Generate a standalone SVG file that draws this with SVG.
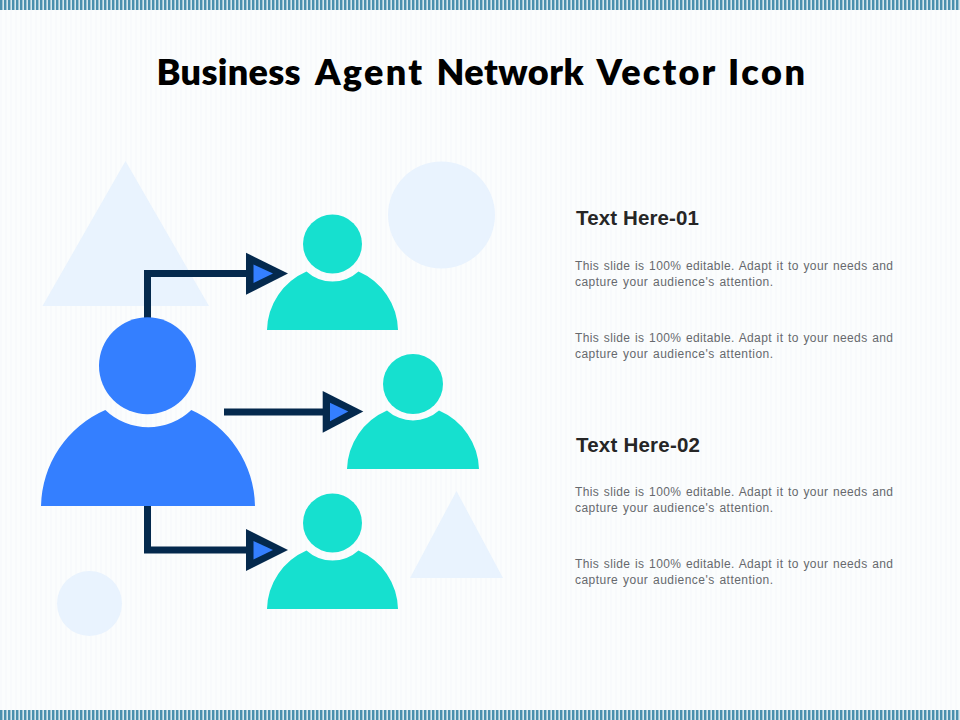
<svg xmlns="http://www.w3.org/2000/svg" width="960" height="720" viewBox="0 0 960 720">
<style>
text{font-family:"Liberation Sans",Arial,sans-serif}
.title{font-family:Lato,"Liberation Sans",sans-serif;font-size:36px;font-weight:800;fill:#000}
.head{font-size:20.500px;font-weight:700;fill:#262626}
.body{font-size:12px;fill:#66696d;word-spacing:1px}
.deco{fill:#e9f3fe}
.teal{fill:#16e0cf}
.blue{fill:#347fff}
.line{fill:none;stroke:#04294d;stroke-width:7}
.ah{fill:#04294d}
</style>
<defs>
<pattern id="bg" width="5" height="10" patternUnits="userSpaceOnUse"><rect width="5" height="10" fill="#fbfdfd"/><rect width="2" height="10" fill="#f8fafc"/></pattern>
<pattern id="band" width="4" height="10" patternUnits="userSpaceOnUse"><rect width="4" height="10" fill="#d6e7ee"/><rect width="2.400" height="10" fill="#4a8fae"/></pattern>
<g id="person"><circle cx="0" cy="-86" r="29.5"/><path d="M-65.5 0A65.5 65.5 0 0 1-26 -58.500A38.500 38.500 0 0 0 26 -58.500A65.500 65.500 0 0 1 65.500 0Z"/></g>
</defs>
<rect width="960" height="720" fill="url(#bg)"/>
<rect width="960" height="10" fill="url(#band)"/>
<rect y="710" width="960" height="10" fill="url(#band)"/>
<text class="title" y="84.500"><tspan x="156.500" textLength="144">Business</tspan> <tspan x="315" textLength="107">Agent</tspan> <tspan x="436.500" textLength="147">Network</tspan> <tspan x="596.500" textLength="118">Vector</tspan> <tspan x="728" textLength="77">Icon</tspan></text>
<g id="decor">
<path class="deco" d="M125.500 161L209 306H42.500Z"/>
<circle class="deco" cx="441.500" cy="215" r="53.500"/>
<path class="deco" d="M456.500 491L503 578H410Z"/>
<circle class="deco" cx="89.500" cy="603.500" r="32.500"/>
</g>
<g id="connectors">
<path class="line" d="M147.500 320V273.500H250"/>
<path class="ah" d="M246 252.700V294.700L288 273.500Z"/><path class="blue" d="M253.500 264.500V283L273 273.500Z"/>
<path class="line" d="M224 412H326"/>
<path class="ah" d="M322.700 391V432.700L363.300 411.500Z"/><path class="blue" d="M330 402.700V421.300L348.300 411.500Z"/>
<path class="line" d="M147.500 504V550H250"/>
<path class="ah" d="M246 529V571L288 550Z"/><path class="blue" d="M253.500 541V559.500L273 550Z"/>
</g>
<g id="agent-main" class="blue"><circle cx="147.500" cy="365.700" r="48.500"/><path d="M41 506A107 107 0 0 1 105.300 410A62 62 0 0 0 191.300 410A107 107 0 0 1 255 506Z"/></g>
<g id="agent-1" class="teal"><use href="#person" x="332.500" y="330"/></g>
<g id="agent-2" class="teal"><circle cx="413" cy="384" r="30"/><path d="M347 469A66 66 0 0 1 387 410.500A39 39 0 0 0 439 410.500A66 66 0 0 1 479 469Z"/></g>
<g id="agent-3" class="teal"><use href="#person" x="332.500" y="609"/></g>
<g id="text-1">
<text class="head" x="576" y="225" textLength="123">Text Here-01</text>
<text class="body" x="575" y="270" textLength="318">This slide is 100% editable. Adapt it to your needs and</text>
<text class="body" x="575" y="286" textLength="198">capture your audience's attention.</text>
<text class="body" x="575" y="342" textLength="318">This slide is 100% editable. Adapt it to your needs and</text>
<text class="body" x="575" y="358" textLength="198">capture your audience's attention.</text>
</g>
<g id="text-2">
<text class="head" x="576" y="452" textLength="124">Text Here-02</text>
<text class="body" x="575" y="496" textLength="318">This slide is 100% editable. Adapt it to your needs and</text>
<text class="body" x="575" y="512" textLength="198">capture your audience's attention.</text>
<text class="body" x="575" y="568" textLength="318">This slide is 100% editable. Adapt it to your needs and</text>
<text class="body" x="575" y="584" textLength="198">capture your audience's attention.</text>
</g>
</svg>
